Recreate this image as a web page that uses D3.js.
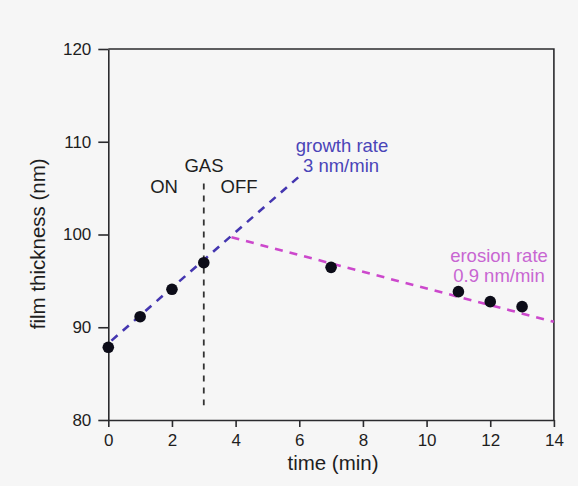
<!DOCTYPE html>
<html>
<head>
<meta charset="utf-8">
<script src="https://cdn.jsdelivr.net/npm/d3@7"></script>
<style>
  html, body { margin: 0; padding: 0; background: #f6f6f6; }
  svg { display: block; }
  text { font-family: "Liberation Sans", Arial, sans-serif; }
</style>
</head>
<body>
<svg id="chart" width="578" height="486"></svg>
<script>
// Measured film thickness over time
const timeMin = [0, 1, 2, 3, 7, 11, 12, 13];
const thicknessNm = [87.84, 91.14, 94.09, 96.96, 96.46, 93.84, 92.76, 92.22];

// Axis ticks
const xTicks = [0, 2, 4, 6, 8, 10, 12, 14];
const yTicks = [80, 90, 100, 110, 120];

// Fitted trend lines: [start time, end time], value at start, rate (nm/min)
const growthSpan = [0.1, 5.98];
const growthStart = 88.56;
const growthRate = 3;
const erosionSpan = [3.87, 14];
const erosionStart = 99.7;
const erosionRate = -0.9;

// Gas switch marker
const gasTime = 3;
const gasSpan = [81.6, 105.5];

const svg = d3.select("#chart");
const x = d3.scaleLinear().domain([0, 14]).range([108.3, 553.9]);
const y = d3.scaleLinear().domain([80, 120]).range([420, 49]);

const ink = "#2b2b2e";

// Frame (top and right edges)
svg.append("path")
  .attr("d", `M${x(0)},${y(120)}H${x(14)}V${y(80)}`)
  .attr("fill", "none").attr("stroke", ink).attr("stroke-width", 1.6);

const xAxis = svg.append("g")
  .attr("transform", `translate(0,${y(80)})`)
  .call(d3.axisBottom(x).tickValues(xTicks).tickSize(7).tickPadding(7).tickSizeOuter(0));
const yAxis = svg.append("g")
  .attr("transform", `translate(${x(0)},0)`)
  .call(d3.axisLeft(y).tickValues(yTicks).tickSize(10).tickPadding(7).tickSizeOuter(0));

[xAxis, yAxis].forEach(g => {
  g.select(".domain").attr("stroke", ink).attr("stroke-width", 1.6);
  g.selectAll(".tick line").attr("stroke", ink).attr("stroke-width", 1.6);
  g.selectAll(".tick text").attr("fill", "#1e1e1e").style("font-size", "17px")
    .style("font-family", "'Liberation Sans', Arial, sans-serif");
});

// Axis titles
svg.append("text")
  .attr("x", 333).attr("y", 470)
  .attr("text-anchor", "middle").attr("fill", "#1e1e1e")
  .style("font-size", "20.5px").text("time (min)");
svg.append("text")
  .attr("transform", `translate(45,${y(99)}) rotate(-90)`)
  .attr("text-anchor", "middle").attr("fill", "#1e1e1e")
  .style("font-size", "20.5px").text("film thickness (nm)");

// Gas on/off divider
svg.append("line")
  .attr("x1", x(gasTime)).attr("x2", x(gasTime))
  .attr("y1", y(gasSpan[1])).attr("y2", y(gasSpan[0]))
  .attr("stroke", "#333").attr("stroke-width", 1.8)
  .attr("stroke-dasharray", "6,6");

// Trend lines
const line = d3.line().x(d => x(d[0])).y(d => y(d[1]));
const growthPts = growthSpan.map(t => [t, growthStart + growthRate * (t - growthSpan[0])]);
const erosionPts = erosionSpan.map(t => [t, erosionStart + erosionRate * (t - erosionSpan[0])]);

svg.append("path").datum(growthPts).attr("d", line)
  .attr("fill", "none").attr("stroke", "#4436b0").attr("stroke-width", 2.6)
  .attr("stroke-dasharray", "8,7");
svg.append("path").datum(erosionPts).attr("d", line)
  .attr("fill", "none").attr("stroke", "#cc48cc").attr("stroke-width", 2.6)
  .attr("stroke-dasharray", "8,7");

// Data points
svg.append("g").selectAll("circle")
  .data(timeMin.map((t, i) => [t, thicknessNm[i]]))
  .join("circle")
  .attr("cx", d => x(d[0])).attr("cy", d => y(d[1]))
  .attr("r", 5.8).attr("fill", "#0c0c18");

// Annotations
const label = (tx, ty, str, color) => svg.append("text")
  .attr("x", tx).attr("y", ty).attr("text-anchor", "middle")
  .attr("fill", color).style("font-size", "18.5px").text(str);

label(204, 172, "GAS", "#1e1e1e");
label(164, 193, "ON", "#1e1e1e");
label(239, 193, "OFF", "#1e1e1e");
label(342, 152, "growth rate", "#4a44b8");
label(341, 172, "3 nm/min", "#4a44b8");
label(499, 262, "erosion rate", "#c866d2");
label(499, 282, "0.9 nm/min", "#c866d2");
</script>
</body>
</html>
